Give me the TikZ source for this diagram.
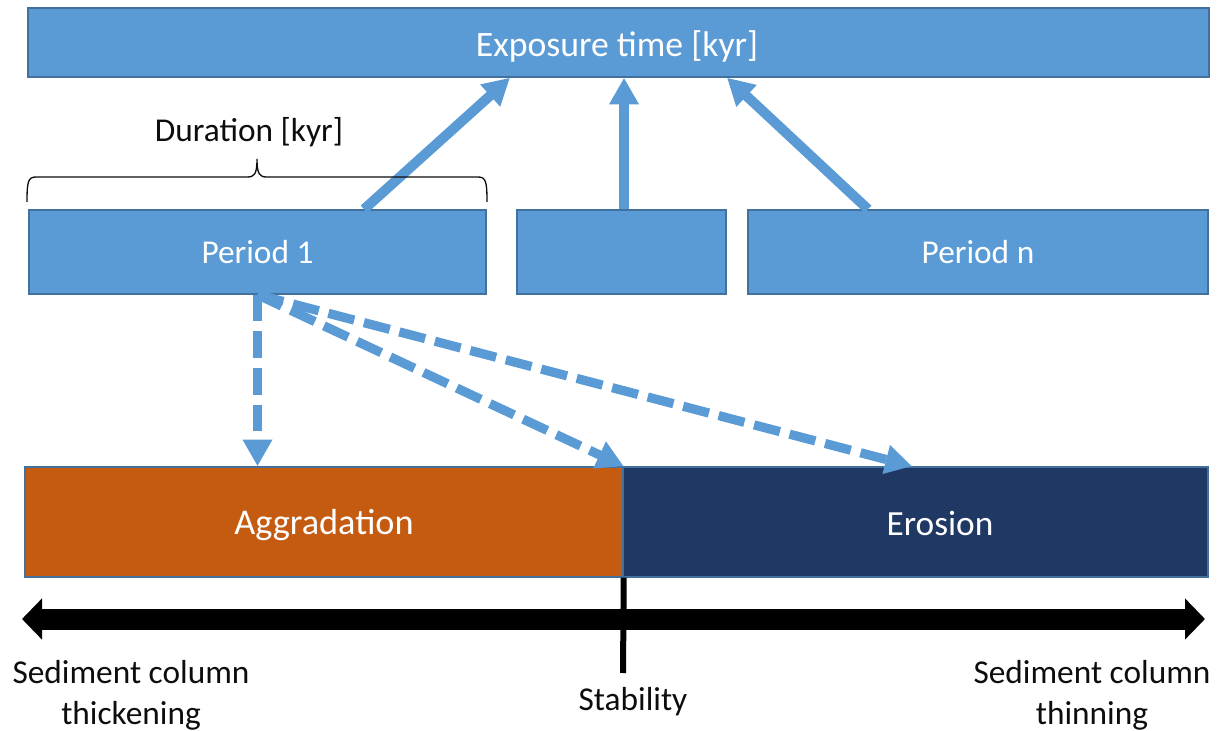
\documentclass[tikz,border=0pt]{standalone}
\usepackage{fontspec}
\setmainfont{Carlito}
\usetikzlibrary{arrows.meta,calc}
\definecolor{boxblue}{HTML}{5B9BD5}
\definecolor{boxedge}{HTML}{41719C}
\definecolor{aggcol}{HTML}{C55A11}
\definecolor{erocol}{HTML}{203864}
\definecolor{txt}{HTML}{0D0D0D}
\tikzset{
  bluebox/.style={draw=boxedge, line width=1.1pt, fill=boxblue, text=white, inner sep=0pt,
    font=\fontsize{25}{30}\selectfont},
  bottombox/.style={draw=boxedge, line width=1.1pt, inner sep=0pt, text=white,
    font=\fontsize{26.5}{32}\selectfont},
  boxtext/.style={text=white, inner sep=0pt},
  solidarrow/.style={draw=boxblue, line width=7.5pt, -{Triangle[width=21pt,length=20pt]}},
  dasharrow/.style={draw=boxblue, line width=6.9pt, dash pattern=on 20pt off 7.5pt,
    -{Triangle[width=21pt,length=20pt]}},
  label text/.style={text=txt, inner sep=0pt, font=\fontsize{25}{30.75}\selectfont, align=center}
}
\begin{document}
\begin{tikzpicture}[x=0.75pt,y=-0.75pt]
\useasboundingbox (0,0) rectangle (1222,731);
% boxes
\node[bluebox, minimum width=885.75pt, minimum height=51.75pt] (exp) at (618.5,42.5) {};
\node[boxtext, font=\fontsize{26.8}{32}\selectfont] (expt) at (617,46) {Exposure time [kyr]};
\node[bluebox, minimum width=342.75pt, minimum height=63pt] (p1) at (257.5,252) {Period 1};
\node[bluebox, minimum width=156.75pt, minimum height=63pt] (mid) at (621.5,252) {};
\node[bluebox, minimum width=345pt, minimum height=63pt] (pn) at (978,252) {Period n};
\node[bottombox, fill=aggcol, minimum width=448.5pt, minimum height=82.5pt] (agg) at (324,522) {};
\node[boxtext, font=\fontsize{27.2}{32}\selectfont] (aggt) at (324,525) {Aggradation};
\node[bottombox, fill=erocol, minimum width=438.75pt, minimum height=82.5pt] (ero) at (915.5,522) {};
\node[boxtext, font=\fontsize{26.5}{32}\selectfont] (erot) at (940,523) {Erosion};
% solid arrows
\draw[solidarrow] ([xshift=79.9pt]p1.north) -- ([xshift=-81.4pt]exp.south);
\draw[solidarrow] ([xshift=1.9pt]mid.north) -- ([xshift=1.9pt]mid.north |- exp.south);
\draw[solidarrow] ([xshift=-82.5pt]pn.north) -- ([xshift=81.4pt]exp.south);
% dashed arrows
\draw[dasharrow] (p1.south) -- (p1.south |- agg.north);
\draw[dasharrow] (p1.south) -- (agg.north east);
\draw[dasharrow] (p1.south) -- ([xshift=-2.6pt]ero.north);
% brace
\coordinate (bl) at (27,202);
\coordinate (bt) at (257,159);
\coordinate (br) at (487,202);
\draw[txt, line width=1pt] (bl) .. controls (27,182) and (28,177) .. (36,177) -- (247,177)
  .. controls (254,177) and (257,175) .. (bt)
  .. controls (257,175) and (260,177) .. (267,177) -- (478,177)
  .. controls (486,177) and (487,182) .. (br);
\node[label text] (dur) at (249,132) {Duration [kyr]};
% bottom axis
\coordinate (axl) at (22,619);
\coordinate (axr) at (1205,619);
\draw[black, line width=15.75pt, {Triangle[width=30pt,length=15pt]}-{Triangle[width=30pt,length=15pt]}] (axl) -- (axr);
\coordinate (stab) at (623,673);
\draw[black, line width=4.5pt] (agg.south east) -- (stab);
\node[label text] (thick) at (131,695) {Sediment column\\thickening};
\node[label text] (thin) at (1092,695) {Sediment column\\thinning};
\node[label text] (stabt) at (633,702) {Stability};
\end{tikzpicture}
\end{document}
